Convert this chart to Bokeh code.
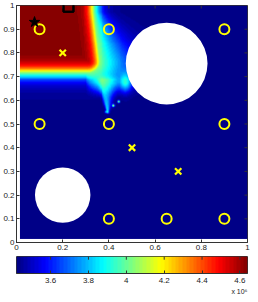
import numpy as np
from bokeh.plotting import figure
from bokeh.models import Range1d, FixedTicker, LinearColorMapper, Title, BoxAnnotation
from bokeh.layouts import column
from bokeh.embed import file_html
from bokeh.resources import INLINE

# ---------------- data ----------------
x_ticks = [0, 0.2, 0.4, 0.6, 0.8, 1]
x_tick_labels = ["0", "0.2", "0.4", "0.6", "0.8", "1"]
y_ticks = [0, 0.1, 0.2, 0.3, 0.4, 0.5, 0.6, 0.7, 0.8, 0.9, 1]
y_tick_labels = ["0", "0.1", "0.2", "0.3", "0.4", "0.5", "0.6", "0.7", "0.8", "0.9", "1"]

ring_x = [0.1, 0.4, 0.9, 0.1, 0.4, 0.9, 0.4, 0.65, 0.9]
ring_y = [0.9, 0.9, 0.9, 0.5, 0.5, 0.5, 0.1, 0.1, 0.1]
cross_x = [0.2, 0.5, 0.7]
cross_y = [0.8, 0.4, 0.3]
star_x = [0.078]
star_y = [0.93]
square_x = [0.225]
square_y = [0.995]

obstacle_x = [0.65, 0.2]
obstacle_y = [0.755, 0.2]
obstacle_r = [0.177, 0.12]

cbar_low = 3.42e6
cbar_high = 4.64e6
cbar_ticks = [3.6e6, 3.8e6, 4.0e6, 4.2e6, 4.4e6, 4.6e6]
cbar_labels = ["3.6", "3.8", "4", "4.2", "4.4", "4.6"]
cbar_exponent = "x 10\u2076"

# field description (hot zone in the upper-left corner and its spill)
field_x0, field_y0 = 0.015, 0.015
hot_corner_x, hot_corner_y, hot_round = 0.328, 0.722, 0.045
hot_lean = 0.12
fan_top_y, fan_tip_y = 0.68, 0.552
fan_top_x, fan_tip_x = 0.372, 0.395
glow_x, glow_y, glow_amp = 0.472, 0.675, 0.3
spot_x = [0.418, 0.44, 0.388]
spot_y = [0.578, 0.594, 0.552]
spot_amp = [0.6, 0.55, 0.3]

# ---------------- layout sizes (px) ----------------
W, H_MAIN, H_BAR = 250, 254, 40
BL, BR, BT, BB = 14, 3, 5, 12
FRAME_W = W - BL - BR
FRAME_H = H_MAIN - BT - BB
BAR_BT, BAR_BB = 2, 22
BAR_H = H_BAR - BAR_BT - BAR_BB
TICK = 3

# ---------------- field ----------------
nx = ny = 240
gx = field_x0 + (np.arange(nx) + 0.5) * (1 - field_x0) / nx
gy = field_y0 + (np.arange(ny) + 0.5) * (1 - field_y0) / ny
X, Y = np.meshgrid(gx, gy)

lean = hot_lean * np.clip(0.97 - Y, 0, 0.22)
cx0, cy0 = hot_corner_x + lean - hot_round, hot_corner_y + hot_round
dx = X - cx0
dy = cy0 - Y
d = np.hypot(np.maximum(dx, 0), np.maximum(dy, 0)) + np.minimum(np.maximum(dx, dy), 0) - hot_round
wy = np.clip((0.97 - Y) / 0.2, 0, 1) * np.clip((Y - 0.6) / 0.07, 0, 1)
wx = np.clip((X - 0.3) / 0.06, 0, 1)
s_out = 0.022 + 0.06 * wy * wx
s = np.where(d < 0.006, 0.016, s_out)
f1 = 1 / (1 + np.exp((d - 0.006) / s))

t = np.clip((fan_top_y - Y) / (fan_top_y - fan_tip_y), 0, 1)
xc = fan_top_x + (fan_tip_x - fan_top_x) * t
wl = 0.005 + 0.018 * (1 - t)
wr = 0.006 + 0.05 * (1 - t)
amp = 0.24 + 0.1 * t
g = np.where(X < xc, np.exp(-((X - xc) / wl) ** 2), np.exp(-((X - xc) / wr) ** 2))
vcut = np.where(Y < fan_tip_y, np.exp(-((fan_tip_y - Y) / 0.008) ** 2), 1.0) * \
       np.where(Y > fan_top_y, np.exp(-((Y - fan_top_y) / 0.02) ** 2), 1.0)
f2 = amp * g * vcut

f3 = glow_amp * np.exp(-(((X - glow_x) / 0.022) ** 2 + ((Y - glow_y) / 0.04) ** 2))

f4 = np.zeros_like(X)
for sx, sy, sa in zip(spot_x, spot_y, spot_amp):
    f4 += sa * np.exp(-((X - sx) ** 2 + (Y - sy) ** 2) / 0.005 ** 2)
f4 = np.clip(f4, 0, 1)

f = 1 - (1 - f1) * (1 - f2) * (1 - f3) * (1 - f4)
field = cbar_low + (0.01 + 0.985 * f) * (cbar_high - cbar_low)


# ---------------- jet palette ----------------
def jet_hex(n):
    out = []
    for i in range(n):
        v = (i + 0.5) / n
        r = np.clip(1.5 - abs(4 * v - 3), 0, 1)
        gg = np.clip(1.5 - abs(4 * v - 2), 0, 1)
        b = np.clip(1.5 - abs(4 * v - 1), 0, 1)
        out.append("#%02x%02x%02x" % (int(r * 255), int(gg * 255), int(b * 255)))
    return out


mapper = LinearColorMapper(palette=jet_hex(64), low=cbar_low, high=cbar_high)

FONT = "Liberation Sans"
FS = "8px"
AX = "#333333"


def style_axis(ax, ticks, labels):
    ax.ticker = FixedTicker(ticks=ticks)
    ax.major_label_overrides = {k: v for k, v in zip(ticks, labels)}
    ax.major_tick_in = TICK
    ax.major_tick_out = 0
    ax.minor_tick_line_color = None
    ax.axis_line_color = AX
    ax.major_tick_line_color = AX
    ax.major_label_text_font = FONT
    ax.major_label_text_font_size = FS
    ax.major_label_text_color = "#222222"
    ax.major_label_standoff = 2


# ---------------- main plot ----------------
p = figure(width=W, height=H_MAIN, x_range=Range1d(0, 1), y_range=Range1d(0, 1),
           output_backend="svg", toolbar_location=None,
           min_border_left=BL, min_border_right=BR, min_border_top=BT, min_border_bottom=BB)
p.grid.grid_line_color = None
p.outline_line_color = AX

p.image(image=[field], x=field_x0, y=field_y0, dw=1 - field_x0, dh=1 - field_y0, color_mapper=mapper)
p.circle(x=obstacle_x, y=obstacle_y, radius=obstacle_r, fill_color="white", line_color=None)

p.scatter(x=ring_x, y=ring_y, marker="circle", size=10, fill_color=None, line_color="#ffff00", line_width=2)
p.scatter(x=cross_x, y=cross_y, marker="x", size=9, line_color="#ffff00", line_width=2.2)
p.scatter(x=star_x, y=star_y, marker="star", size=11, fill_color="black", line_color="black")
p.scatter(x=square_x, y=square_y, marker="square", size=10, fill_color=None, line_color="black", line_width=2)

# the square also as a box annotation, so that its part above the frame shows
hx = 5.0 / FRAME_W
hy = 5.0 / FRAME_H
for sx, sy in zip(square_x, square_y):
    p.add_layout(BoxAnnotation(left=sx - hx, right=sx + hx, bottom=sy - hy, top=sy + hy,
                               fill_alpha=0, line_color="black", line_width=2, line_alpha=1))

style_axis(p.xaxis[0], x_ticks, x_tick_labels)
style_axis(p.yaxis[0], y_ticks, y_tick_labels)

# inward ticks on the top and right edges (box style)
ty = TICK / FRAME_H
tx = TICK / FRAME_W
p.segment(x0=x_ticks, y0=[1] * len(x_ticks), x1=x_ticks, y1=[1 - ty] * len(x_ticks), line_color=AX, line_width=1)
p.segment(x0=[1] * len(y_ticks), y0=y_ticks, x1=[1 - tx] * len(y_ticks), y1=y_ticks, line_color=AX, line_width=1)

# ---------------- colour bar ----------------
p2 = figure(width=W, height=H_BAR, x_range=Range1d(cbar_low, cbar_high), y_range=Range1d(0, 1),
            output_backend="svg", toolbar_location=None,
            min_border_left=BL, min_border_right=BR, min_border_top=BAR_BT, min_border_bottom=0)
p2.grid.grid_line_color = None
p2.yaxis.visible = False
p2.outline_line_color = AX
grad = np.linspace(cbar_low, cbar_high, 512)[None, :]
p2.image(image=[grad], x=cbar_low, y=0, dw=cbar_high - cbar_low, dh=1, color_mapper=mapper)
style_axis(p2.xaxis[0], cbar_ticks, cbar_labels)
p2.xaxis.major_label_standoff = 4
bty = TICK / BAR_H
p2.segment(x0=cbar_ticks, y0=[1] * len(cbar_ticks), x1=cbar_ticks, y1=[1 - bty] * len(cbar_ticks),
           line_color=AX, line_width=1)
p2.add_layout(Title(text=cbar_exponent, align="right", text_font=FONT, text_font_size="7px",
                    text_font_style="normal", text_color="#222222", standoff=0), "below")

layout = column(p, p2, spacing=0)
open("out.html", "w").write(file_html(layout, INLINE))
